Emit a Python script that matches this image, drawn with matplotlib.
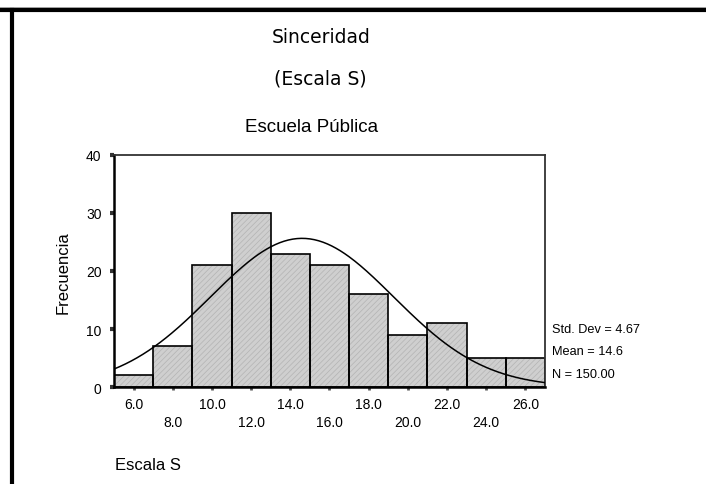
import numpy as np
import matplotlib.pyplot as plt
from matplotlib.lines import Line2D

# datos del histograma (Escala S, Escuela Pública)
bin_edges = [5, 7, 9, 11, 13, 15, 17, 19, 21, 23, 25, 27]
frecuencias = [2, 7, 21, 30, 23, 21, 16, 9, 11, 5, 5]
ticks_fila1 = [6.0, 10.0, 14.0, 18.0, 22.0, 26.0]
ticks_fila2 = [8.0, 12.0, 16.0, 20.0, 24.0]
media = 14.6
desv = 4.67
n_total = 150

W, H = 706, 485
fig = plt.figure(figsize=(W / 100, H / 100), dpi=100)
plt.rcParams['font.family'] = ['Liberation Sans', 'DejaVu Sans']
plt.rcParams['hatch.linewidth'] = 0.5

# marco del fondo
fig.add_artist(Line2D([0, 1], [1 - 8.5 / H, 1 - 8.5 / H], color='#a0a0a0', lw=1.2))
fig.add_artist(Line2D([0, 1], [1 - 11 / H, 1 - 11 / H], color='black', lw=3))
fig.add_artist(Line2D([11.5 / W, 11.5 / W], [0, 1 - 11 / H], color='black', lw=3))

ax = fig.add_axes([114 / W, 1 - 388 / H, (545 - 114) / W, (388 - 156) / H])

anchos = np.diff(bin_edges)
# relleno con textura fina y luego el contorno
ax.bar(bin_edges[:-1], frecuencias, width=anchos, align='edge',
       facecolor='#cfcfcf', edgecolor='#b3b3b3', hatch='//////', linewidth=0, zorder=2)
ax.bar(bin_edges[:-1], frecuencias, width=anchos, align='edge',
       facecolor='none', edgecolor='black', linewidth=1.2, zorder=2.5)

# curva normal
xs = np.linspace(bin_edges[0], bin_edges[-1], 300)
ys = n_total * anchos[0] / (desv * np.sqrt(2 * np.pi)) * np.exp(-0.5 * ((xs - media) / desv) ** 2)
ax.plot(xs, ys, color='black', lw=1.1, zorder=3)

ax.set_xlim(bin_edges[0], bin_edges[-1])
ax.set_ylim(0, 40)
ax.set_yticks([0, 10, 20, 30, 40])
ax.set_xticks(ticks_fila1, labels=[f"{t:.1f}" for t in ticks_fila1])
ax.set_xticks(ticks_fila2, labels=[f"{t:.1f}" for t in ticks_fila2], minor=True)
ax.tick_params(axis='x', which='both', length=2, width=2, color='#555555', labelsize=10, direction='out')
ax.tick_params(axis='x', which='major', pad=5)
ax.tick_params(axis='x', which='minor', pad=18)
ax.tick_params(axis='y', length=3, width=3, color='#333333', labelsize=10, pad=6)

for s in ['top', 'right']:
    ax.spines[s].set_color('#333333')
    ax.spines[s].set_linewidth(1.3)
ax.spines['left'].set_linewidth(1.8)
ax.spines['bottom'].set_linewidth(1.8)

# textos
fig.text(321 / W, 1 - 38 / H, "Sinceridad", ha='center', va='center', fontsize=13.5,
         family=['DejaVu Sans'])
fig.text(320 / W, 1 - 79 / H, "(Escala S)", ha='center', va='center', fontsize=13.5,
         family=['DejaVu Sans'])
fig.text(312 / W, 1 - 128 / H, "Escuela Pública", ha='center', va='center', fontsize=13.5)
fig.text(63 / W, 1 - 273 / H, "Frecuencia", ha='center', va='center', rotation=90, fontsize=12)

fig.text(552 / W, 1 - 330 / H, f"Std. Dev = {desv:.2f}", ha='left', va='center', fontsize=9.2)
fig.text(552 / W, 1 - 352 / H, f"Mean = {media:.1f}", ha='left', va='center', fontsize=9.2)
fig.text(552 / W, 1 - 375 / H, f"N = {n_total:.2f}", ha='left', va='center', fontsize=9.2)
fig.text(115 / W, 1 - 466 / H, "Escala S", ha='left', va='center', fontsize=12)

plt.savefig("out.png", dpi=100)
plt.close()
